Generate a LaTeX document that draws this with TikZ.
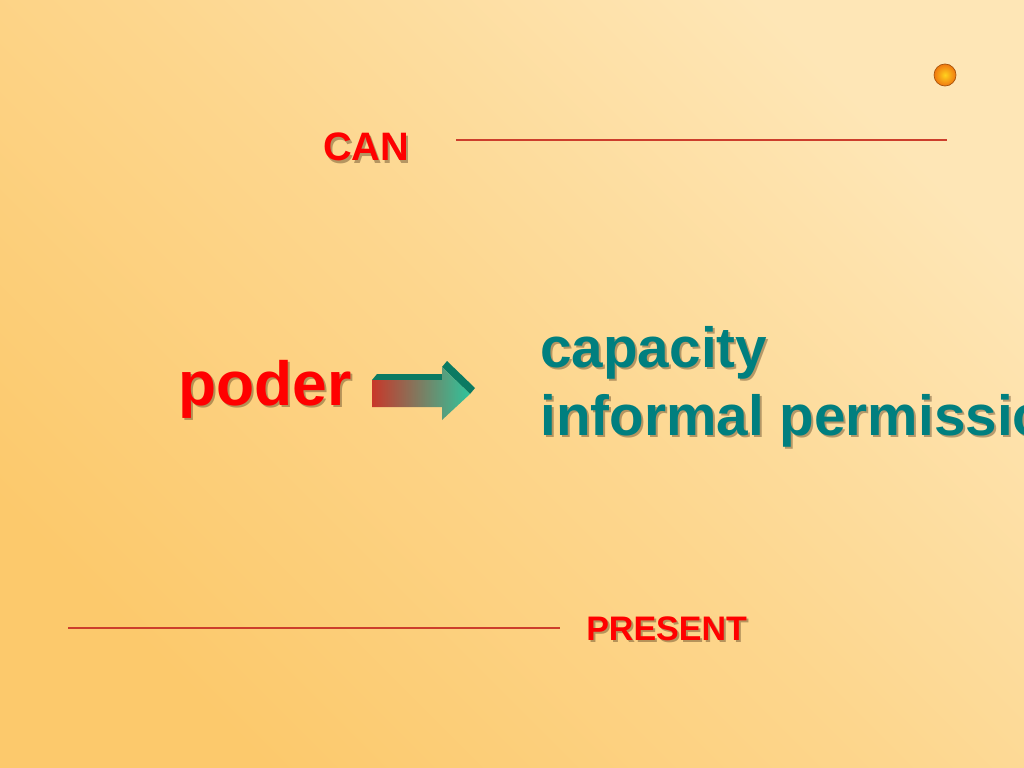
\documentclass[tikz,border=0pt]{standalone}
\usepackage{fontspec}
\setmainfont{Liberation Sans}
\definecolor{bgdark}{HTML}{FCC96C}
\definecolor{bglight}{HTML}{FEE6B6}
\definecolor{rulered}{HTML}{CC3E2C}
\definecolor{wordred}{HTML}{FF0000}
\definecolor{wordteal}{HTML}{007F7F}
\definecolor{shadowbrown}{HTML}{4A3218}
\definecolor{arrowred}{HTML}{C8382A}
\definecolor{arrowgreen}{HTML}{2EC49C}
\definecolor{arrowtop}{HTML}{0B7A62}
\definecolor{ballcore}{HTML}{FFD21E}
\definecolor{ballrim}{HTML}{F07810}
\tikzset{
  word/.style={inner sep=0pt, anchor=base west, font=\bfseries},
  word shadow/.style={word, text=shadowbrown, opacity=0.4},
  rule line/.style={draw=rulered, line width=1.5pt},
}
\begin{document}
\begin{tikzpicture}[x=0.0248cm, y=-0.0248cm]
\useasboundingbox (0,0) rectangle (1024,768);
\clip (0,0) rectangle (1024,768);
% background
\shade[top color=bglight, bottom color=bgdark, middle color=bglight!45!bgdark,
  shading angle=-45] (0,0) rectangle (1024,768);

% small ball
\shade[inner color=ballcore, outer color=ballrim] (945,75) circle (11);
\draw[ballrim!70!black, line width=0.5pt] (945,75) circle (11);

% rule lines
\coordinate (can rule start) at (456,140);
\coordinate (can rule end) at (947,140);
\coordinate (present rule start) at (68,628);
\coordinate (present rule end) at (560,628);
\draw[rule line] (can rule start) -- (can rule end);
\draw[rule line] (present rule start) -- (present rule end);

% titles
\node[word shadow, font=\bfseries\fontsize{28}{30}\selectfont] (can shadow) at (325,163) {CAN};
\node[word, text=wordred, font=\bfseries\fontsize{28}{30}\selectfont] (can) at (323,161) {CAN};
\node[word shadow, font=\bfseries\fontsize{24}{26}\selectfont] (present shadow) at (588,642) {PRESENT};
\node[word, text=wordred, font=\bfseries\fontsize{24}{26}\selectfont] (present) at (586,640) {PRESENT};

% main word
\node[word shadow, font=\bfseries\fontsize{44}{48}\selectfont] (poder shadow) at (180,407) {poder};
\node[word, text=wordred, font=\bfseries\fontsize{44}{48}\selectfont] (poder) at (178,405) {poder};

% 3d arrow
\fill[arrowtop] (372,380) -- (377,374) -- (442,374) -- (442,380) -- cycle;
\fill[arrowtop] (442,367) -- (447,361) -- (475,388) -- (470,394) -- cycle;
\shade[left color=arrowred, right color=arrowgreen]
  (372,380) -- (442,380) -- (442,367) -- (470,394) -- (442,420)
  -- (442,407) -- (372,407) -- cycle;

% meanings
\node[word shadow, font=\bfseries\fontsize{40}{46}\selectfont] (capacity shadow) at (542,369) {capacity};
\node[word, text=wordteal, font=\bfseries\fontsize{40}{46}\selectfont] (capacity) at (540,367) {capacity};
\node[word shadow, font=\bfseries\fontsize{40}{46}\selectfont] (permission shadow) at (542,437) {informal permission};
\node[word, text=wordteal, font=\bfseries\fontsize{40}{46}\selectfont] (permission) at (540,435) {informal permission};
\end{tikzpicture}
\end{document}
